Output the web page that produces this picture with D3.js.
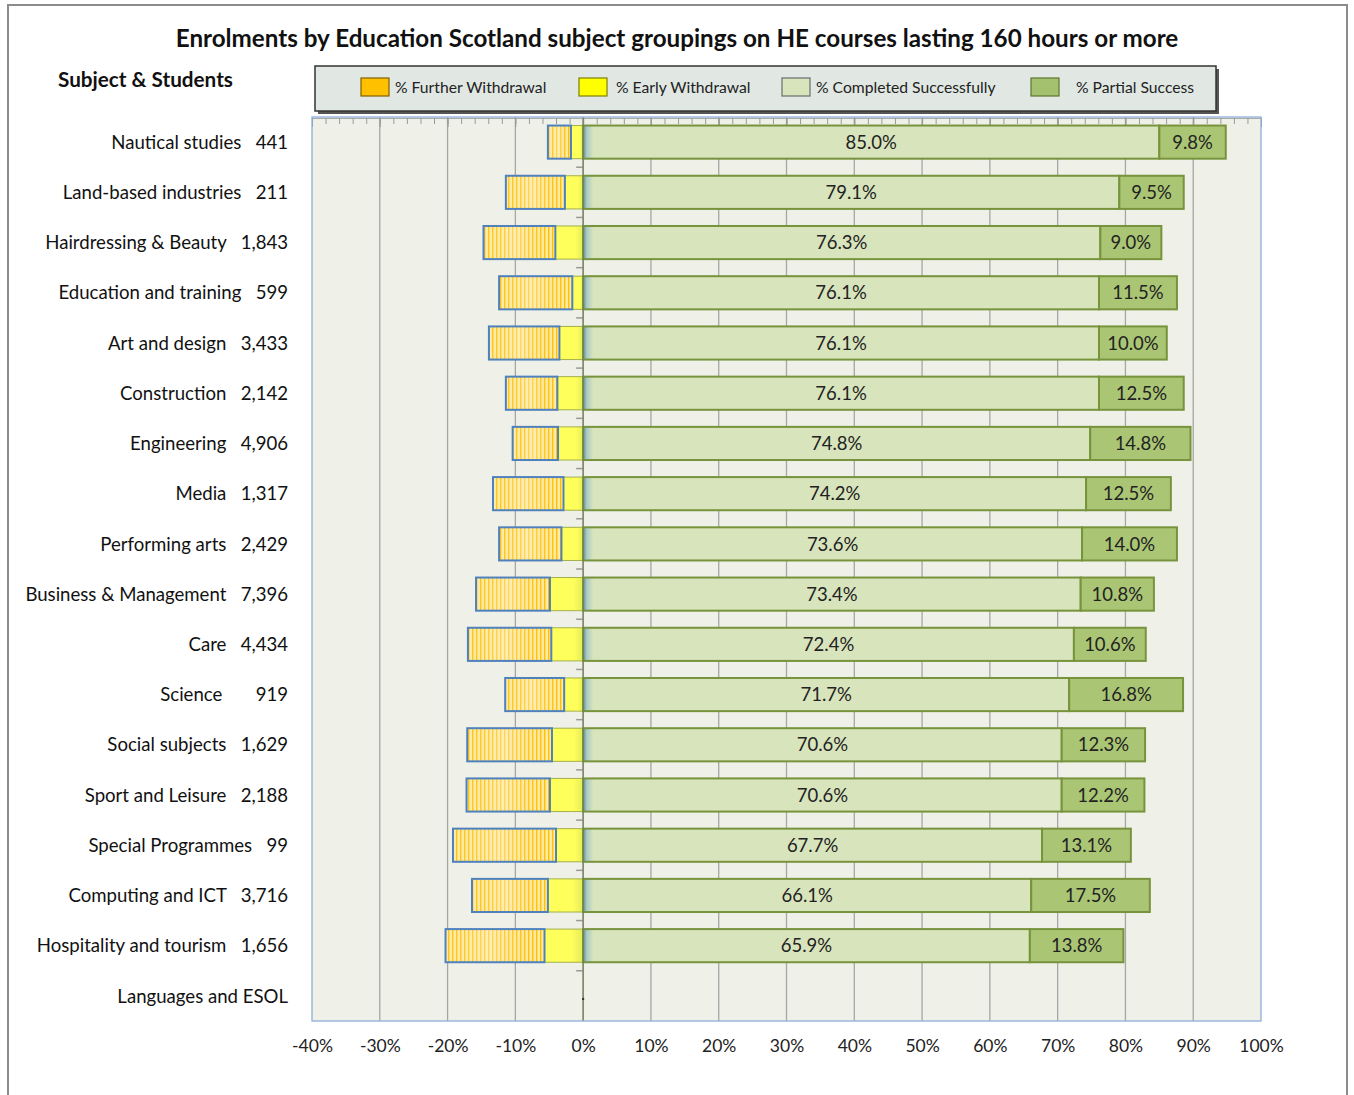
<!DOCTYPE html>
<html><head><meta charset="utf-8">
<script src="https://cdn.jsdelivr.net/npm/d3@7"></script>
<style>
body{margin:0;background:#fff;}
svg text{font-family:Lato,"Open Sans",sans-serif;}
</style></head>
<body><svg id="c" width="1354" height="1095"></svg>
<script>
const subjects = ["Nautical studies","Land-based industries","Hairdressing & Beauty","Education and training","Art and design","Construction","Engineering","Media","Performing arts","Business & Management","Care","Science","Social subjects","Sport and Leisure","Special Programmes","Computing and ICT","Hospitality and tourism","Languages and ESOL"];
const students = ["441","211","1,843","599","3,433","2,142","4,906","1,317","2,429","7,396","4,434","919","1,629","2,188","99","3,716","1,656",""];
const gapSpaces = [3,3,3,3,3,3,3,3,3,3,3,7,3,3,3,3,3,0];
const furtherWithdrawal = [3.4,8.7,10.6,10.8,10.4,7.6,6.7,10.4,9.2,10.9,12.3,8.7,12.5,12.3,15.2,11.2,14.6,null];
const earlyWithdrawal = [1.8,2.7,4.1,1.6,3.5,3.8,3.7,2.9,3.2,4.9,4.7,2.8,4.6,4.9,4.0,5.2,5.7,null];
const completed = [85.0,79.1,76.3,76.1,76.1,76.1,74.8,74.2,73.6,73.4,72.4,71.7,70.6,70.6,67.7,66.1,65.9,null];
const partial = [9.8,9.5,9.0,11.5,10.0,12.5,14.8,12.5,14.0,10.8,10.6,16.8,12.3,12.2,13.1,17.5,13.8,null];
const seriesNames = ["% Further Withdrawal","% Early Withdrawal","% Completed Successfully","% Partial Success"];
const xTicks = [-40,-30,-20,-10,0,10,20,30,40,50,60,70,80,90,100];

const svg = d3.select("#c");
const defs = svg.append("defs");

// stripes for further withdrawal
const pat = defs.append("pattern").attr("id","stripes").attr("patternUnits","userSpaceOnUse").attr("width",4).attr("height",10);
pat.append("rect").attr("width",4).attr("height",10).attr("fill","#fff3c4");
pat.append("rect").attr("x",0).attr("width",1.4).attr("height",10).attr("fill","#ffc000");
const fwGrad = defs.append("linearGradient").attr("id","fwShade").attr("x1","0").attr("x2","1").attr("y1","0").attr("y2","0");
fwGrad.append("stop").attr("offset","0").attr("stop-color","#ffd24a").attr("stop-opacity",0.25);
fwGrad.append("stop").attr("offset","0.45").attr("stop-color","#ffe9a8").attr("stop-opacity",0.55);
fwGrad.append("stop").attr("offset","1").attr("stop-color","#ffc000").attr("stop-opacity",0.15);

const ewGrad = defs.append("linearGradient").attr("id","ewGrad").attr("x1","0").attr("x2","1");
ewGrad.append("stop").attr("offset","0").attr("stop-color","#ffff5c");
ewGrad.append("stop").attr("offset","0.7").attr("stop-color","#ffff5c");
ewGrad.append("stop").attr("offset","1").attr("stop-color","#e4ea5a");

const csGrad = defs.append("linearGradient").attr("id","csGrad").attr("gradientUnits","userSpaceOnUse");

// outer frame
svg.append("rect").attr("x",8).attr("y",5).attr("width",1339).attr("height",1100).attr("fill","#fff").attr("stroke","#8c8c8c").attr("stroke-width",2);

const x = d3.scaleLinear().domain([-40,100]).range([312,1261]);
const y = d3.scaleBand().domain(subjects).range([117,1021]).paddingInner(0.34).paddingOuter(0.17);

csGrad.attr("x1",x(0)).attr("x2",x(0)+10).attr("y1",0).attr("y2",0);
csGrad.append("stop").attr("offset","0").attr("stop-color","#5f8fa0");
csGrad.append("stop").attr("offset","0.35").attr("stop-color","#a9c8c4");
csGrad.append("stop").attr("offset","1").attr("stop-color","#d8e4bc");

// plot background
svg.append("rect").attr("x",x(-40)).attr("y",117).attr("width",x(100)-x(-40)).attr("height",1021-117).attr("fill","#eff1e9");

// gridlines
svg.append("g").selectAll("line").data(xTicks.filter(t=>t>-40&&t<100)).join("line")
  .attr("x1",d=>x(d)).attr("x2",d=>x(d)).attr("y1",117).attr("y2",1021)
  .attr("stroke",d=>d===0?"#888":"#a6a6a6").attr("stroke-width",1.3);

// top minor/major tick axis
const topAxisMinor = d3.axisTop(x).tickValues(d3.range(-40,101,2)).tickSize(-6).tickFormat("");
const gTop = svg.append("g").attr("transform","translate(0,118)").call(topAxisMinor);
gTop.select(".domain").attr("stroke","#aaa");
gTop.selectAll(".tick line").attr("stroke","#999");
const topAxisMajor = d3.axisTop(x).tickValues(xTicks).tickSize(-9).tickFormat("");
const gTop2 = svg.append("g").attr("transform","translate(0,118)").call(topAxisMajor);
gTop2.select(".domain").remove();
gTop2.selectAll(".tick line").attr("stroke","#999");

// category ticks on 0 line
const boundaries = subjects.map((s,i)=> 117 + (i+1)*y.step()).slice(0,-1);
svg.append("g").selectAll("line").data(boundaries).join("line")
  .attr("x1",x(0)-7).attr("x2",x(0)).attr("y1",d=>d).attr("y2",d=>d).attr("stroke","#999").attr("stroke-width",1.5);

// data rows
const rows = subjects.map((s,i)=>({s,i,fw:furtherWithdrawal[i],ew:earlyWithdrawal[i],cs:completed[i],ps:partial[i]})).filter(d=>d.cs!=null);
const g = svg.append("g");
rows.forEach(d=>{
  const yy = y(d.s), h = y.bandwidth();
  // early withdrawal
  g.append("rect").attr("x",x(-d.ew)).attr("y",yy).attr("width",x(0)-x(-d.ew)).attr("height",h)
    .attr("fill","url(#ewGrad)").attr("stroke","#a2b04a").attr("stroke-width",1);
  // further withdrawal
  const fx = x(-(d.ew+d.fw)), fw = x(-d.ew)-x(-(d.ew+d.fw));
  g.append("rect").attr("x",fx).attr("y",yy).attr("width",fw).attr("height",h).attr("fill","url(#stripes)");
  g.append("rect").attr("x",fx).attr("y",yy).attr("width",fw).attr("height",h).attr("fill","url(#fwShade)")
    .attr("stroke","#4f81bd").attr("stroke-width",2);
  // completed
  g.append("rect").attr("x",x(0)).attr("y",yy).attr("width",x(d.cs)-x(0)).attr("height",h)
    .attr("fill","url(#csGrad)").attr("stroke","#77933c").attr("stroke-width",2);
  // partial
  g.append("rect").attr("x",x(d.cs)).attr("y",yy).attr("width",x(d.cs+d.ps)-x(d.cs)).attr("height",h)
    .attr("fill","#aac675").attr("stroke","#77933c").attr("stroke-width",2);
  // labels
  g.append("text").attr("x",(x(0)+x(d.cs))/2).attr("y",yy+h/2).attr("dy","0.36em").attr("text-anchor","middle")
    .attr("font-size",18.5).attr("fill","#222").text(d.cs.toFixed(1)+"%");
  g.append("text").attr("x",(x(d.cs)+x(d.cs+d.ps))/2).attr("y",yy+h/2).attr("dy","0.36em").attr("text-anchor","middle")
    .attr("font-size",18.5).attr("fill","#222").text(d.ps.toFixed(1)+"%");
});
// dark zero line over bars
svg.append("line").attr("x1",x(0)).attr("x2",x(0)).attr("y1",117).attr("y2",1021).attr("stroke","#6b7f4a").attr("stroke-width",1.5).attr("opacity",0.6);
// dot at empty category
svg.append("circle").attr("cx",x(0)).attr("cy",y("Languages and ESOL")+y.bandwidth()/2+3).attr("r",1.2).attr("fill","#333");

// plot border
svg.append("rect").attr("x",x(-40)).attr("y",117).attr("width",x(100)-x(-40)).attr("height",1021-117).attr("fill","none").attr("stroke","#8eaedb").attr("stroke-width",1.3);

// y labels
svg.append("g").selectAll("text").data(subjects).join("text")
  .attr("x",288).attr("y",d=>y(d)+y.bandwidth()/2).attr("dy","0.36em").attr("text-anchor","end")
  .attr("font-size",18.6).attr("fill","#111").style("white-space","pre")
  .text((d,i)=> d + " ".repeat(gapSpaces[i]) + students[i]);

// x axis labels
const xAxis = d3.axisBottom(x).tickValues(xTicks).tickSize(0).tickPadding(0).tickFormat(d=>d+"%");
const gx = svg.append("g").attr("transform","translate(0,1040)").call(xAxis);
gx.select(".domain").remove();
gx.selectAll("text").attr("font-size",17.5).attr("fill","#222").attr("font-family","Lato,sans-serif");

// title
svg.append("text").attr("x",677).attr("y",47).attr("text-anchor","middle").attr("font-size",24.2).attr("font-weight","bold").attr("fill","#111")
  .text("Enrolments by Education Scotland subject groupings on HE courses lasting 160 hours or more");
svg.append("text").attr("x",58).attr("y",87).attr("font-size",20.7).attr("font-weight","bold").attr("fill","#111").text("Subject & Students");

// legend
svg.append("rect").attr("x",318).attr("y",69).attr("width",901).attr("height",45).attr("fill","#555");
svg.append("rect").attr("x",315).attr("y",66).attr("width",901).attr("height",45).attr("fill","#e1e8e3").attr("stroke","#333").attr("stroke-width",1.5);
const legendX = [361,579,782,1031];
const legendFill = ["#ffc000","#ffff00","#d8e4bc","#a3c16e"];
const legendStroke = ["#7f6000","#7f7f00","#6b6b6b","#5e7530"];
const lg = svg.append("g").selectAll("g").data(seriesNames).join("g").attr("transform",(d,i)=>`translate(${legendX[i]},78)`);
lg.append("rect").attr("width",28).attr("height",18).attr("fill",(d,i)=>legendFill[i]).attr("stroke",(d,i)=>legendStroke[i]).attr("stroke-width",1.2);
lg.append("text").attr("x",(d,i)=> i===3?45:(i===1?37:34)).attr("y",9).attr("dy","0.36em").attr("font-size",15.7).attr("fill","#222").text(d=>d);
</script></body></html>
